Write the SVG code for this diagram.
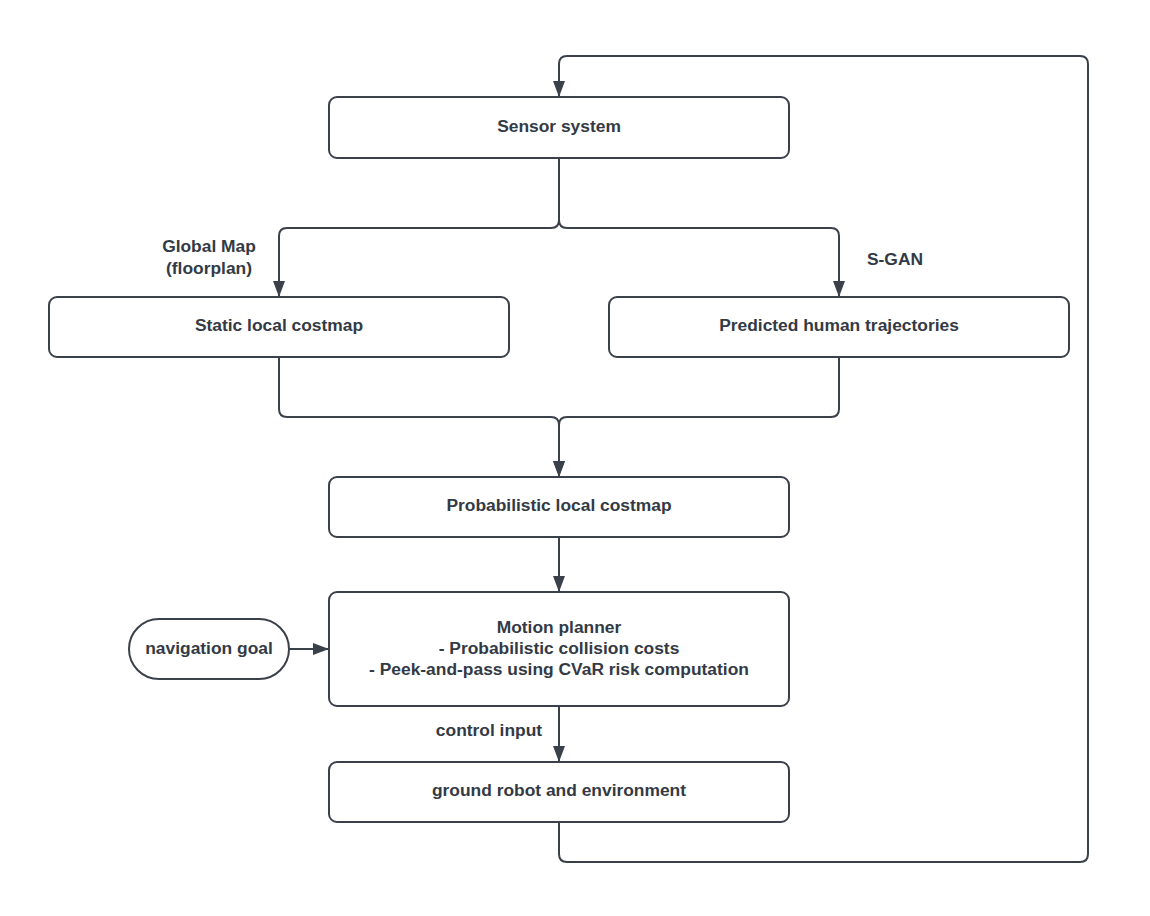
<svg xmlns="http://www.w3.org/2000/svg" width="1150" height="916" viewBox="0 0 1150 916">
<style>
.box{fill:#ffffff;stroke:#3a414a;stroke-width:2}
.lbl{font-family:"Liberation Sans",Arial,sans-serif;font-weight:bold;font-size:17.4px;fill:#333a45;text-anchor:middle;dominant-baseline:central}
.con{fill:none;stroke:#3a414a;stroke-width:2}
</style>
<defs>
<marker id="arr" viewBox="0 0 16 14" refX="15" refY="7" markerWidth="16" markerHeight="14" markerUnits="userSpaceOnUse" orient="auto">
<path d="M0,1 L16,7 L0,13 Z" fill="#3a414a"/>
</marker>
</defs>
<rect width="1150" height="916" fill="#ffffff"/>
<g id="connectors">
<path class="con" d="M559,822 V854 Q559,862 567,862 H1080 Q1088,862 1088,854 V64 Q1088,56 1080,56 H567 Q559,56 559,64 V96" marker-end="url(#arr)"/>
<path class="con" d="M559,158 V220 Q559,228 551,228 H287 Q279,228 279,236 V296" marker-end="url(#arr)"/>
<path class="con" d="M559,158 V220 Q559,228 567,228 H831 Q839,228 839,236 V296" marker-end="url(#arr)"/>
<path class="con" d="M279,357 V409 Q279,417 287,417 H551 Q559,417 559,425 V476" marker-end="url(#arr)"/>
<path class="con" d="M839,357 V409 Q839,417 831,417 H567 Q559,417 559,425 V476" marker-end="url(#arr)"/>
<path class="con" d="M559,537 V591" marker-end="url(#arr)"/>
<path class="con" d="M289,649 H328" marker-end="url(#arr)"/>
<path class="con" d="M559,706 V761" marker-end="url(#arr)"/>
<text class="lbl" x="209" y="246">Global Map</text>
<text class="lbl" x="209" y="268">(floorplan)</text>
<text class="lbl" x="895" y="259">S-GAN</text>
<text class="lbl" x="489" y="730">control input</text>
</g>
<g id="sensor">
<rect class="box" x="329" y="97" width="460" height="61" rx="8"/>
<text class="lbl" x="559" y="126">Sensor system</text>
</g>
<g id="static">
<rect class="box" x="49" y="297" width="460" height="60" rx="8"/>
<text class="lbl" x="279" y="325">Static local costmap</text>
</g>
<g id="predicted">
<rect class="box" x="609" y="297" width="460" height="60" rx="8"/>
<text class="lbl" x="839" y="325">Predicted human trajectories</text>
</g>
<g id="probabilistic">
<rect class="box" x="329" y="477" width="460" height="60" rx="8"/>
<text class="lbl" x="559" y="505">Probabilistic local costmap</text>
</g>
<g id="planner">
<rect class="box" x="329" y="592" width="460" height="114" rx="8"/>
<text class="lbl" x="559" y="627">Motion planner</text>
<text class="lbl" x="559" y="648">- Probabilistic collision costs</text>
<text class="lbl" x="559" y="669">- Peek-and-pass using CVaR risk computation</text>
</g>
<g id="goal">
<rect class="box" x="129" y="619" width="160" height="60" rx="30"/>
<text class="lbl" x="209" y="648">navigation goal</text>
</g>
<g id="robot">
<rect class="box" x="329" y="762" width="460" height="60" rx="8"/>
<text class="lbl" x="559" y="790">ground robot and environment</text>
</g>
</svg>
